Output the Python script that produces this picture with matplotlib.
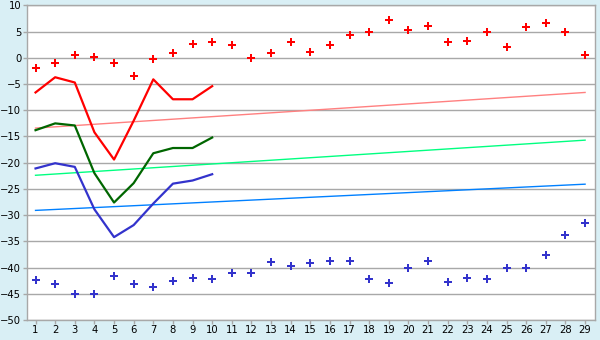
import matplotlib
matplotlib.use("Agg")
import matplotlib.pyplot as plt
import numpy as np

days = list(range(1, 30))

# scatter series (one value per day)
upper_pts = [-2.0, -0.9, 0.6, 0.2, -0.9, -3.4, -0.3, 1.0, 2.7, 3.1,
             2.5, 0.0, 1.0, 3.1, 1.2, 2.5, 4.4, 5.0, 7.3, 5.4,
             6.0, 3.1, 3.3, 5.0, 2.1, 5.8, 6.7, 5.0, 0.6]
lower_pts = [-42.4, -43.1, -45.0, -45.0, -41.7, -43.1, -43.8, -42.6, -42.0, -42.2,
             -41.1, -41.1, -39.0, -39.8, -39.2, -38.8, -38.8, -42.2, -43.0, -40.0,
             -38.8, -42.8, -42.0, -42.2, -40.0, -40.0, -37.7, -33.8, -31.6]

# line series, first 10 days only
red_line = [-6.6, -3.7, -4.7, -14.2, -19.4, -12.0, -4.1, -7.9, -7.9, -5.4]
green_line = [-13.8, -12.5, -12.9, -22.0, -27.6, -23.9, -18.2, -17.2, -17.2, -15.2]
blue_line = [-21.1, -20.1, -20.8, -28.9, -34.2, -31.9, -27.8, -24.0, -23.4, -22.2]

# straight trend lines: value at day 1 and day 29
trend_red = [-13.4, -6.6]
trend_green = [-22.4, -15.7]
trend_blue = [-29.1, -24.1]

bg = '#D9EFF5'
grid_c = '#A8A8A8'

fig = plt.figure(figsize=(6, 3.4), dpi=100, facecolor=bg)
ax = fig.add_axes([0.0445, 0.059, 0.947, 0.925])
ax.set_facecolor('white')

ax.set_ylim(-50, 10)
ax.set_xlim(0.55, 29.5)
ax.set_yticks(np.arange(-50, 11, 5))
ax.set_xticks(days)
ax.yaxis.grid(True, color=grid_c, linewidth=1)
ax.set_axisbelow(True)

for s in ax.spines.values():
    s.set_color(grid_c)
    s.set_linewidth(1)

ax.tick_params(axis='both', colors=grid_c, labelcolor='black', labelsize=7.2,
               length=3, width=1, pad=1)

ends = [days[0], days[-1]]
ax.plot(ends, trend_red, color='#FF8080', linewidth=1)
ax.plot(ends, trend_green, color='#00FF80', linewidth=1)
ax.plot(ends, trend_blue, color='#0080FF', linewidth=1)

d10 = days[:len(red_line)]
ax.plot(d10, red_line, color='#FF0000', linewidth=1.6)
ax.plot(d10, green_line, color='#006600', linewidth=1.6)
ax.plot(d10, blue_line, color='#3333CC', linewidth=1.6)

ax.plot(days, upper_pts, linestyle='none', marker='P', markersize=5.5,
        color='#FF0000', markeredgewidth=0)
ax.plot(days, lower_pts, linestyle='none', marker='P', markersize=5.5,
        color='#3333CC', markeredgewidth=0)

fig.savefig('out.png', dpi=100, facecolor=bg)
